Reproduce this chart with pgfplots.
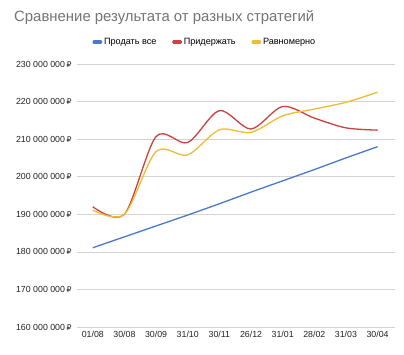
\documentclass[border=0pt]{standalone}
\usepackage{pgfplots}
\pgfplotsset{compat=1.18}
\usepackage{fontspec}
\setmainfont{Liberation Sans}
\newfontfamily\rub{DejaVu Sans}
\definecolor{cblue}{HTML}{4A78CC}
\definecolor{cred}{HTML}{D04040}
\definecolor{cyel}{HTML}{F0BC30}
\definecolor{cgrid}{HTML}{D4D4D4}
\definecolor{ctitle}{HTML}{757575}
\definecolor{ctick}{HTML}{222222}
\newcommand{\R}{\,{\rub\fontsize{7.8}{9}\selectfont ₽}}
\begin{document}
\begin{tikzpicture}[x=1pt,y=1pt]
\useasboundingbox[fill=white] (0,0) rectangle (404,355);
\node[anchor=base west, text=ctitle, font=\fontsize{14.9}{17}\selectfont, inner sep=0] at (14,333) {Сравнение результата от разных стратегий};
\begin{axis}[
  at={(77pt,28pt)}, anchor=south west,
  width=318pt, height=263pt, scale only axis,
  xmin=-0.5, xmax=9.55, ymin=160, ymax=230,
  axis line style={draw=none},
  ymajorgrids, grid style={cgrid, line width=0.7pt},
  major tick length=0pt,
  xtick={0,...,9},
  xticklabels={01/08,30/08,30/09,31/10,30/11,26/12,31/01,28/02,31/03,30/04},
  ytick={160,170,...,230},
  yticklabels={160 000 000\R,170 000 000\R,180 000 000\R,190 000 000\R,200 000 000\R,210 000 000\R,220 000 000\R,230 000 000\R},
  ticklabel style={font=\fontsize{8.8}{10}\selectfont, text=ctick},
  yticklabel style={xshift=-2pt},
  xticklabel style={yshift=-1pt},
  legend columns=3,
  legend style={at={(0.4025,1.0837)}, anchor=center, draw=none, fill=none,
    font=\fontsize{9.1}{11}\selectfont, inner sep=0pt,
    /tikz/every even column/.append style={column sep=14pt}},
  legend image code/.code={\fill[rounded corners=0.8pt] (0pt,-1.3pt) rectangle (8pt,1.3pt);},
  every axis plot/.append style={line width=1.3pt},
]
\addplot[cblue, smooth, tension=0.3] coordinates {(0,181.1) (1,184.0) (2,186.9) (3,189.8) (4,192.8) (5,195.9) (6,198.9) (7,201.9) (8,205.0) (9,208.0)};
\addlegendentry{Продать все}
\addplot[cred, smooth] coordinates {(0,192.0) (1,190.0) (2,210.7) (3,209.1) (4,217.6) (5,212.7) (6,218.7) (7,215.6) (8,213.0) (9,212.4)};
\addlegendentry{Придержать}
\addplot[cyel, smooth] coordinates {(0,191.1) (1,190.0) (2,206.7) (3,205.8) (4,212.5) (5,211.8) (6,216.2) (7,218.0) (8,219.8) (9,222.5)};
\addlegendentry{Равномерно}
\end{axis}
\end{tikzpicture}
\end{document}
